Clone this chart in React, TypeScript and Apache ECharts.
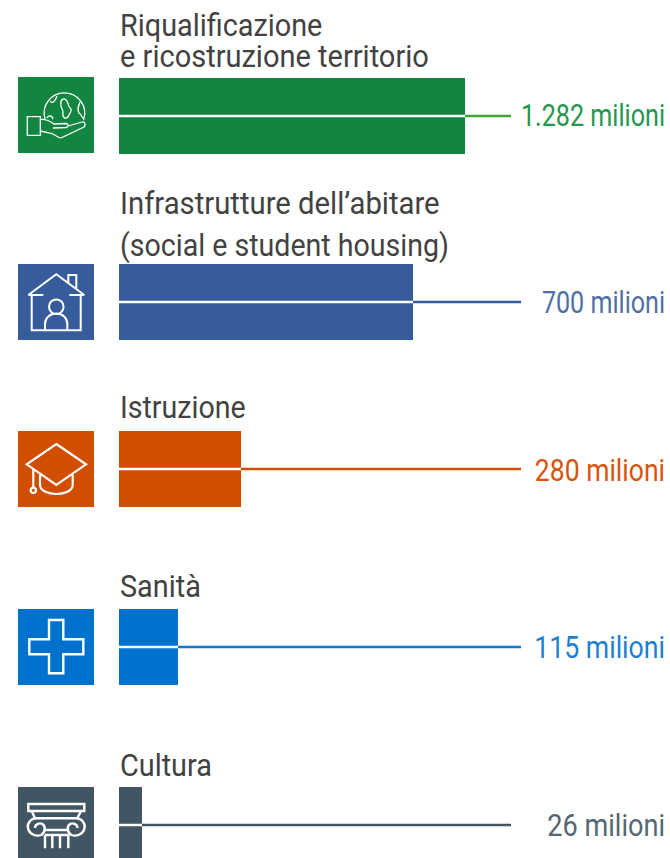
import React, { useEffect, useRef } from "react";
import * as echarts from "echarts";

// ---- data ----
const categories = ["Riqualificazione e ricostruzione territorio", "Infrastrutture dell'abitare", "Istruzione", "Sanità", "Cultura"];
const titleLines = [
  ["Riqualificazione", "e ricostruzione territorio"],
  ["Infrastrutture dell’abitare", "(social e student housing)"],
  ["Istruzione"],
  ["Sanità"],
  ["Cultura"],
];
const amountLabels = ["1.282 milioni", "700 milioni", "280 milioni", "115 milioni", "26 milioni"];
// the drawn bars are not linear in the amounts: these are their lengths
const barLengths = [346, 294, 122, 59, 23];
const leaderEnds = [392, 402, 402, 402, 392];

// ---- styles and layout ----
const barColors = ["#128540", "#365c9b", "#d14d00", "#0072ce", "#425563"];
const leaderColors = ["#3fa535", "#365c9b", "#d14d00", "#0f7ad0", "#425563"];
const labelColors = ["#25964f", "#4f6fa6", "#d9540c", "#1f80d2", "#566672"];
const rowTops = [78, 264, 431, 609, 787];
const iconTops = [77, 264, 431, 609, 787];
const lineYs = [[25, 56], [203, 245], [407], [586], [765]];
const titleScales = [[0.93, 0.936], [0.945, 0.922], [0.922], [0.93], [0.93]];
const labelYs = [116, 303, 470, 647, 825];
const labelScales = [0.811, 0.81, 0.856, 0.86, 0.875];
const ROW_H = 76;
const FONT = '"Roboto", sans-serif';

const icons = [
  "M27 42 A20.3 20.3 0 1 1 65.5 43 M32 24 C34 27 37 25 39 19 M29 41 C30 38 34 38 35 42 M43 27 C42 23 46 20 48 23 C51 25 49 29 53 32 C54 36 51 36 50 40 C47 43 44 40 45 35 C45 32 42 30 43 27 M62 25 C60 30 59 33 61 36 C63 37 63 39 65 41 " +
    "M9.3 39.7 H22.3 V58.3 H9.3 Z M22.3 42.5 C28 42 32 44 36 47 L48 46.5 C51 47 51 50 48 50.5 L35 51 M22.3 54 L34 56.5 L41 60.5 C42 61 43 61 44 60.5 L66 50 C68 48 67 44 64 45 L50 49",
  "M10.3 31 L38.3 10.3 L66.3 31 M10.3 31 H25.3 M51.3 31 H66.3 M13.7 31 V66.3 H62.7 V31 M50.3 19.3 V11 H58.3 V25.3 " +
    "M45.6 42.7 A7.3 7.3 0 1 1 31 42.7 A7.3 7.3 0 1 1 45.6 42.7 M27 66.3 V60 C27 54 32 49.5 38.3 49.5 C44.5 49.5 49.3 54 49.3 60 V66.3",
  "M38.3 13 L68 33.3 L38.3 54 L8.7 33.3 Z M15.3 38.3 V56.7 M18 59.3 A2.7 2.7 0 1 1 12.6 59.3 A2.7 2.7 0 1 1 18 59.3 " +
    "M22 44 V54 C22 60 31 63 38.3 63 C46 63 54.7 60 54.7 54 V44",
  "M31 11 H45.3 V30.3 H65.3 V45.3 H45.3 V64.3 H31 V45.3 H11.3 V30.3 H31 Z",
  "M10.3 17 H66.3 V24 H10.3 Z M13.7 24 L17 31.3 H59.3 L63 24 " +
    "M19 31.3 C12 31.3 9 37 10 41 C11 47 18 50 23 48 C27 46 28 40 25 37.5 C22 35 17 37 17 41 " +
    "M57.5 31.3 C64.5 31.3 67.5 37 66.5 41 C65.5 47 58.5 50 53.5 48 C49.5 46 48.5 40 51.5 37.5 C54.5 35 59.5 37 59.5 41 " +
    "M25.3 43 H51.3 M27 48 H50.3 M27 48 V61.3 M34.3 48 V61.3 M42 48 V61.3 M50.3 48 V61.3",
];
const iconStrokes = [1.3, 2, 2.2, 2.4, 2.4];
icons.forEach((d, i) => echarts.graphic.registerShape("icon" + i, echarts.graphic.extendPath(d, {})));

export default function App() {
  const ref = useRef<HTMLDivElement>(null);
  useEffect(() => {
    const chart = echarts.init(ref.current!, null, { renderer: "svg" });
    const idx = categories.map((_, i) => i);
    const texts: any[] = [];
    idx.forEach((i) => {
      titleLines[i].forEach((t, j) =>
        texts.push({
          type: "text", x: 120, y: lineYs[i][j], scaleX: titleScales[i][j], silent: true,
          style: { text: t, font: `31px ${FONT}`, fill: "#424242", textAlign: "left", textVerticalAlign: "middle" },
        })
      );
      texts.push({
        type: "text", x: 665, y: labelYs[i], scaleX: labelScales[i], silent: true,
        style: { text: amountLabels[i], font: `31px ${FONT}`, fill: labelColors[i], textAlign: "right", textVerticalAlign: "middle" },
      });
      texts.push({ type: "rect", x: 18, y: iconTops[i], silent: true, shape: { width: 76, height: ROW_H }, style: { fill: barColors[i] } });
      texts.push({
        type: "icon" + i, x: 18, y: iconTops[i], silent: true,
        style: { fill: "none", stroke: "#fff", lineWidth: iconStrokes[i] },
      });
    });
    chart.setOption({
      animation: false,
      grid: idx.map((i) => ({ left: 119, width: 551, top: rowTops[i], height: ROW_H, show: false })),
      xAxis: idx.map((i) => ({ gridIndex: i, type: "value", min: 0, max: 551, show: false })),
      yAxis: idx.map((i) => ({ gridIndex: i, type: "category", data: [categories[i]], show: false })),
      series: idx.flatMap((i) => [
        {
          type: "bar", name: categories[i], xAxisIndex: i, yAxisIndex: i, barWidth: "100%", silent: true,
          data: [barLengths[i]], itemStyle: { color: barColors[i] }, z: 2,
        },
        {
          type: "line", xAxisIndex: i, yAxisIndex: i, symbol: "none", silent: true, z: 3,
          data: [[0, categories[i]], [barLengths[i], categories[i]]],
          lineStyle: { color: "#fff", width: 2.6 },
        },
        {
          type: "line", xAxisIndex: i, yAxisIndex: i, symbol: "none", silent: true, z: 3,
          data: [[barLengths[i], categories[i]], [leaderEnds[i], categories[i]]],
          lineStyle: { color: leaderColors[i], width: 2.6 },
        },
      ]),
      graphic: texts,
    });
    return () => chart.dispose();
  }, []);
  return (
    <div style={{ position: "fixed", left: 0, top: 0, width: 670, height: 858, overflow: "hidden", background: "#fff" }}>
      <div ref={ref} style={{ width: 670, height: 880 }} />
    </div>
  );
}
